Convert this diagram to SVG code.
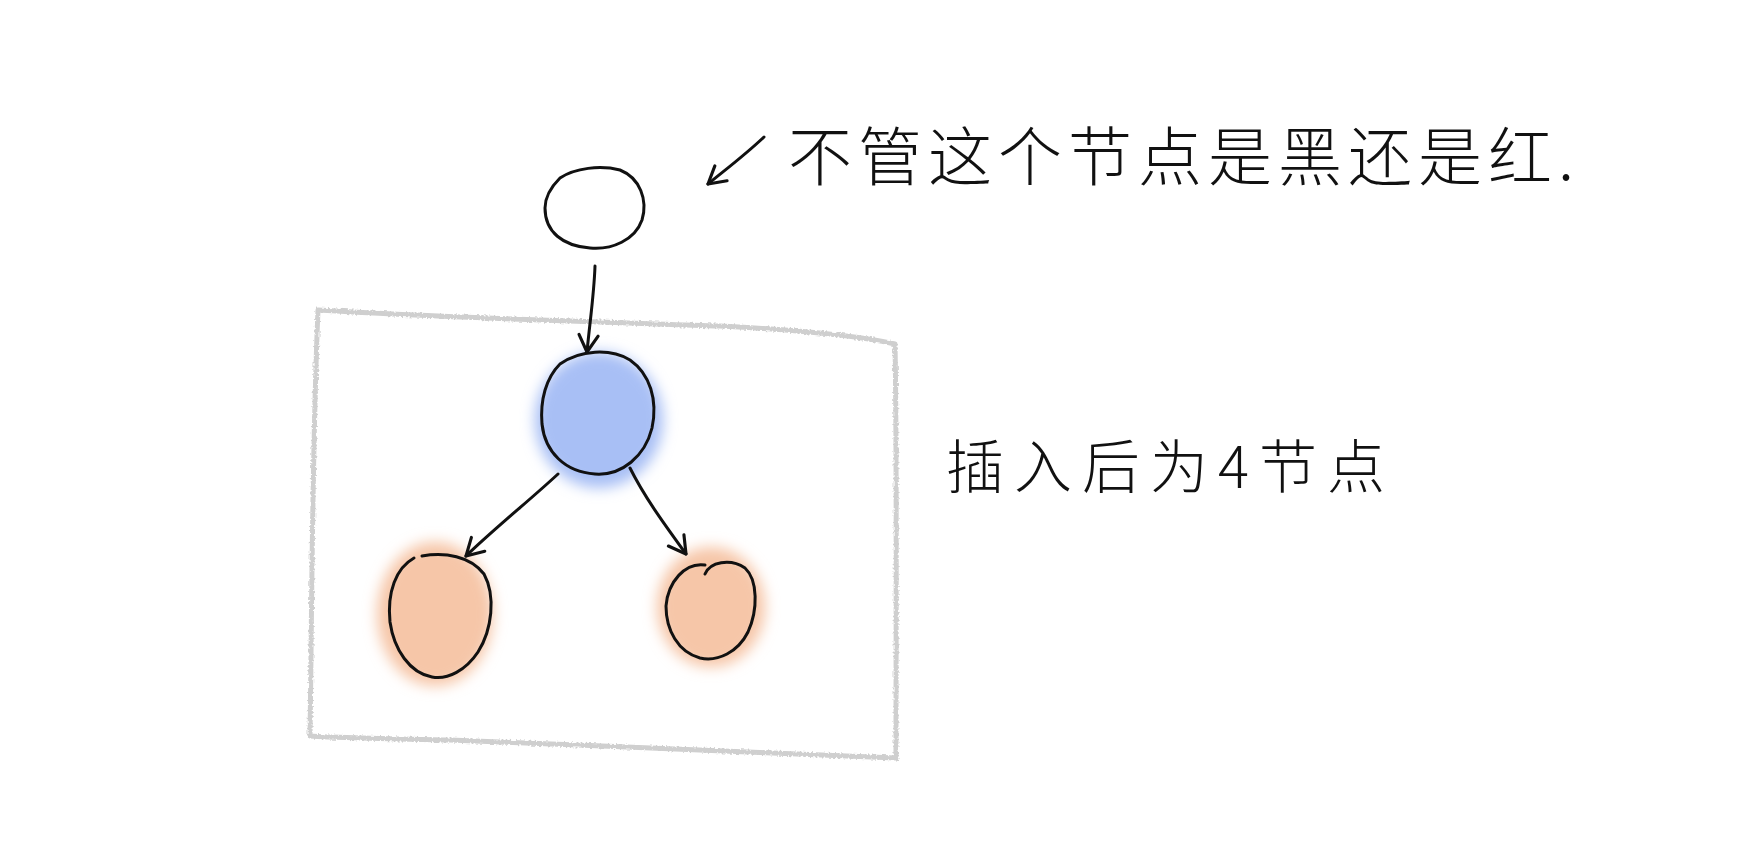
<svg xmlns="http://www.w3.org/2000/svg" width="1762" height="844" viewBox="0 0 1762 844">
<defs>
<filter id="glow" x="-30%" y="-30%" width="160%" height="160%"><feGaussianBlur stdDeviation="7"/></filter>
<filter id="rough" x="-5%" y="-5%" width="110%" height="110%"><feTurbulence type="fractalNoise" baseFrequency="0.5" numOctaves="2" seed="3"/><feDisplacementMap in="SourceGraphic" scale="4"/></filter>
<marker id="arr" viewBox="0 0 20 20" refX="16" refY="10" markerWidth="24" markerHeight="24" markerUnits="userSpaceOnUse" orient="auto"><path d="M2,2 L16,10 L2,18" fill="none" stroke="#111" stroke-width="2.6" stroke-linecap="round" stroke-linejoin="round"/></marker>
</defs>
<style>
.ink{fill:none;stroke:#111;stroke-width:3;stroke-linecap:round;stroke-linejoin:round}
.frame{fill:none;stroke:#cfcfcf;stroke-width:5;stroke-linecap:round;stroke-linejoin:round}
.t{font-family:"Noto Sans CJK SC","Noto Sans CJK JP",sans-serif;fill:#111;font-weight:300}
</style>
<rect width="1762" height="844" fill="#fff"/>
<g id="frame" filter="url(#rough)">
<path class="frame" d="M318,310 C450,318 600,322 720,326 C800,330 860,336 895,344 C897,450 896,600 896,758 C760,752 600,746 450,740 C400,739 340,738 310,736 C312,600 312,450 318,310 Z"/>
</g>
<g id="top-node">
<path class="ink" d="M560,178 C575,168 600,165 620,170 C640,178 648,200 642,220 C635,240 612,250 590,248 C563,246 545,232 545,208 C545,196 552,186 560,178"/>
</g>
<g id="blue-node">
<ellipse cx="599" cy="420" rx="64" ry="68" fill="#a8bff5" filter="url(#glow)"/>
<path class="ink" fill="#a8bff5" d="M560,364 C580,350 610,348 630,360 C650,374 658,400 652,428 C645,456 622,476 595,474 C565,472 545,452 542,424 C540,400 546,378 560,364"/>
</g>
<g id="left-node">
<ellipse cx="435" cy="614" rx="58" ry="72" fill="#f6c6a8" filter="url(#glow)"/>
<path class="ink" fill="#f4c3a4" d="M422,556 C445,552 470,556 484,574 C496,596 492,630 478,652 C466,670 448,680 432,677 C410,673 394,650 390,622 C387,592 396,568 414,558"/>
</g>
<g id="right-node">
<ellipse cx="711" cy="607" rx="54" ry="60" fill="#f6c6a8" filter="url(#glow)"/>
<path class="ink" fill="#f4c3a4" d="M705,574 C710,562 730,558 745,568 C758,580 758,610 748,632 C738,652 718,662 700,658 C678,652 666,630 666,606 C668,582 685,562 705,565"/>
</g>
<g id="connectors">
<path class="ink" d="M595,266 C594,295 590,320 587,352" marker-end="url(#arr)"/>
<path class="ink" d="M558,474 C530,500 495,528 466,556" marker-end="url(#arr)"/>
<path class="ink" d="M630,468 C645,498 665,525 686,554" marker-end="url(#arr)"/>
<path class="ink" d="M764,137 C745,155 725,170 708,184" marker-end="url(#arr)"/>
</g>
<g id="labels">
<text class="t" x="788" y="180" font-size="64" letter-spacing="6">不管这个节点是黑还是红.</text>
<text class="t" x="946" y="488" font-size="58" letter-spacing="10">插入后为4节点</text>
</g>
</svg>
